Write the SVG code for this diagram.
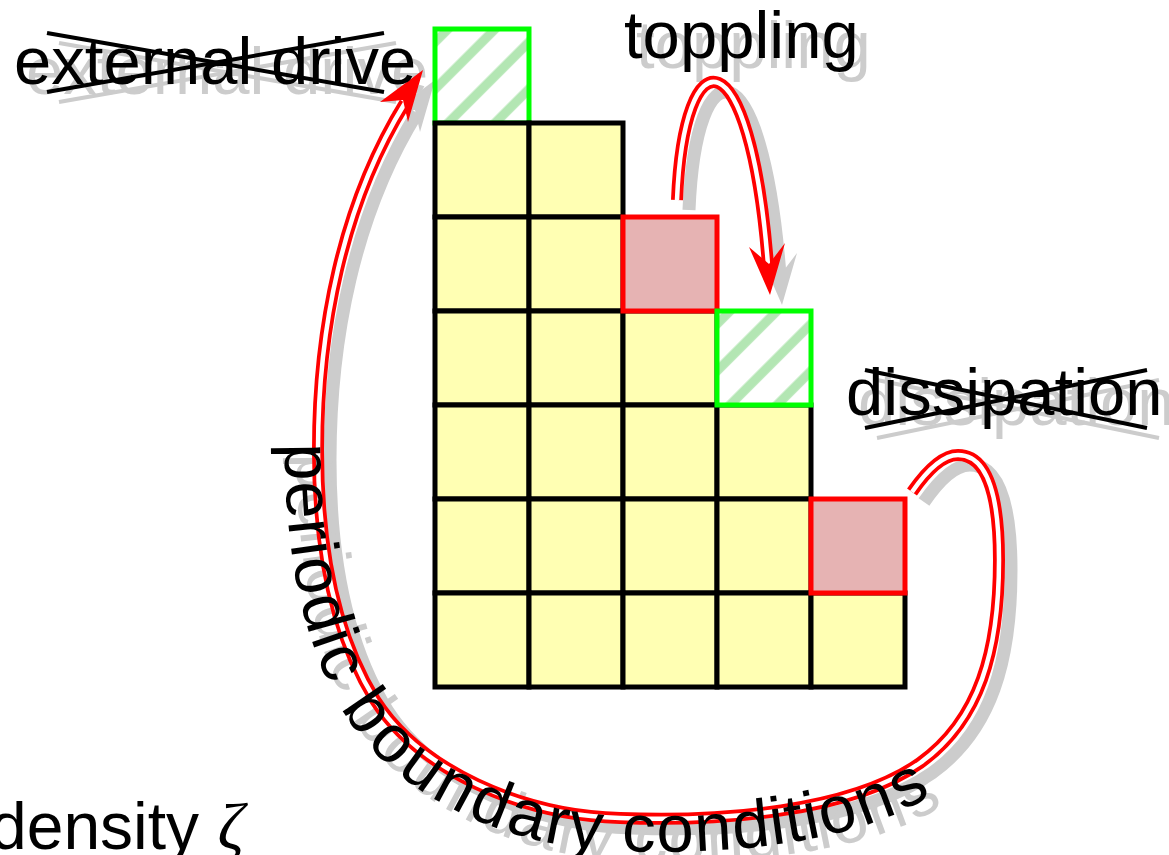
<svg xmlns="http://www.w3.org/2000/svg" xmlns:xlink="http://www.w3.org/1999/xlink" width="1169" height="855" viewBox="0 0 1169 855">
<style>
.cell{fill:#ffffb3;stroke:#000;stroke-width:5}
.red{fill:#e6b3b3;stroke:#ff0000;stroke-width:5}
.green{fill:url(#hatch);stroke:#00ff00;stroke-width:5}
.lbl{font-family:"Liberation Sans",Arial,sans-serif;font-size:67px;fill:#000}
.sh .lbl{fill:#cccccc}
.strike{stroke:#000;stroke-width:4;fill:none}
.sh .strike{stroke:#cccccc}
.shline{fill:none;stroke:#cccccc;stroke-width:13}
.outer{fill:none;stroke:#ff0000;stroke-width:12}
.inner{fill:none;stroke:#ffffff;stroke-width:4.5}
.head{fill:#ff0000}
.shhead{fill:#cccccc}
</style>
<defs>
<pattern id="hatch" patternUnits="userSpaceOnUse" width="33.23" height="33.23" patternTransform="rotate(45)">
<rect width="33.23" height="33.23" fill="#ffffff"/>
<rect x="0.4" y="0" width="9.2" height="33.23" fill="#b3e6b3"/>
</pattern>
<path id="loop" d="M 912 492 C 930 466, 945 455, 958 455 C 985 455, 999 490, 999 560 C 999 650, 980 720, 920 763 C 850 812, 720 822, 620 818 C 520 815, 420 770, 375 700 C 335 635, 318 550, 318 450 C 318 330, 342 205, 405 103"/>
<path id="topple" d="M 677 200 C 684 33, 750 33, 768 265"/>
<polygon id="headLoop" points="423,70 408,122 403,100 380,102"/>
<polygon id="headTopple" points="770,295 749,247 769,264 785,243"/>
<path id="textCurve" d="M 318 443 L 318 450 C 318 550, 335 635, 375 700 C 420 770, 520 815, 620 818 C 720 822, 850 812, 920 763 C 980 720, 999 650, 999 560"/>
</defs>

<!-- shadows -->
<g id="shadows" class="sh" transform="translate(12,10)">
<use xlink:href="#loop" class="shline"/>
<use xlink:href="#topple" class="shline"/>
<use xlink:href="#headLoop" class="shhead"/>
<use xlink:href="#headTopple" class="shhead"/>
<text class="lbl" x="14" y="84">external drive</text>
<line class="strike" x1="47" y1="33" x2="384" y2="92"/>
<line class="strike" x1="47" y1="92" x2="384" y2="33"/>
<text class="lbl" x="624" y="58">toppling</text>
<text class="lbl" x="846" y="415">dissipation</text>
<line class="strike" x1="865" y1="370" x2="1147" y2="428"/>
<line class="strike" x1="865" y1="428" x2="1147" y2="370"/>
<text class="lbl" dy="33"><textPath xlink:href="#textCurve" startOffset="0">periodic boundary conditions</textPath></text>
</g>

<!-- cells -->
<g id="cell-r0c0"><rect class="green" x="435" y="29" width="94" height="94"/></g>
<g id="cell-r1c0"><rect class="cell" x="435" y="123" width="94" height="94"/></g>
<g id="cell-r1c1"><rect class="cell" x="529" y="123" width="94" height="94"/></g>
<g id="cell-r2c0"><rect class="cell" x="435" y="217" width="94" height="94"/></g>
<g id="cell-r2c1"><rect class="cell" x="529" y="217" width="94" height="94"/></g>
<g id="cell-r3c0"><rect class="cell" x="435" y="311" width="94" height="94"/></g>
<g id="cell-r3c1"><rect class="cell" x="529" y="311" width="94" height="94"/></g>
<g id="cell-r3c2"><rect class="cell" x="623" y="311" width="94" height="94"/></g>
<g id="cell-r4c0"><rect class="cell" x="435" y="405" width="94" height="94"/></g>
<g id="cell-r4c1"><rect class="cell" x="529" y="405" width="94" height="94"/></g>
<g id="cell-r4c2"><rect class="cell" x="623" y="405" width="94" height="94"/></g>
<g id="cell-r4c3"><rect class="cell" x="717" y="405" width="94" height="94"/></g>
<g id="cell-r5c0"><rect class="cell" x="435" y="499" width="94" height="94"/></g>
<g id="cell-r5c1"><rect class="cell" x="529" y="499" width="94" height="94"/></g>
<g id="cell-r5c2"><rect class="cell" x="623" y="499" width="94" height="94"/></g>
<g id="cell-r5c3"><rect class="cell" x="717" y="499" width="94" height="94"/></g>
<g id="cell-r6c0"><rect class="cell" x="435" y="593" width="94" height="94"/></g>
<g id="cell-r6c1"><rect class="cell" x="529" y="593" width="94" height="94"/></g>
<g id="cell-r6c2"><rect class="cell" x="623" y="593" width="94" height="94"/></g>
<g id="cell-r6c3"><rect class="cell" x="717" y="593" width="94" height="94"/></g>
<g id="cell-r6c4"><rect class="cell" x="811" y="593" width="94" height="94"/></g>
<g id="cell-r2c2"><rect class="red" x="623" y="217" width="94" height="94"/></g>
<g id="cell-r5c4"><rect class="red" x="811" y="499" width="94" height="94"/></g>
<g id="cell-r3c3"><rect class="green" x="717" y="311" width="94" height="94"/></g>

<!-- connectors -->
<g id="connectors">
<use xlink:href="#loop" class="outer"/>
<use xlink:href="#loop" class="inner"/>
<use xlink:href="#headLoop" class="head"/>
<use xlink:href="#topple" class="outer"/>
<use xlink:href="#topple" class="inner"/>
<use xlink:href="#headTopple" class="head"/>
</g>

<!-- labels -->
<g id="label-external-drive">
<text class="lbl" x="14" y="84">external drive</text>
<line class="strike" x1="47" y1="33" x2="384" y2="92"/>
<line class="strike" x1="47" y1="92" x2="384" y2="33"/>
</g>
<g id="label-toppling"><text class="lbl" x="624" y="58">toppling</text></g>
<g id="label-dissipation">
<text class="lbl" x="846" y="415">dissipation</text>
<line class="strike" x1="865" y1="370" x2="1147" y2="428"/>
<line class="strike" x1="865" y1="428" x2="1147" y2="370"/>
</g>
<g id="label-periodic"><text class="lbl" dy="33"><textPath xlink:href="#textCurve" startOffset="0">periodic boundary conditions</textPath></text></g>
<g id="label-density"><text class="lbl" x="-10" y="849" style="font-size:66px">density <tspan style="font-family:'Liberation Serif',serif;font-style:italic">ζ</tspan></text></g>
</svg>
